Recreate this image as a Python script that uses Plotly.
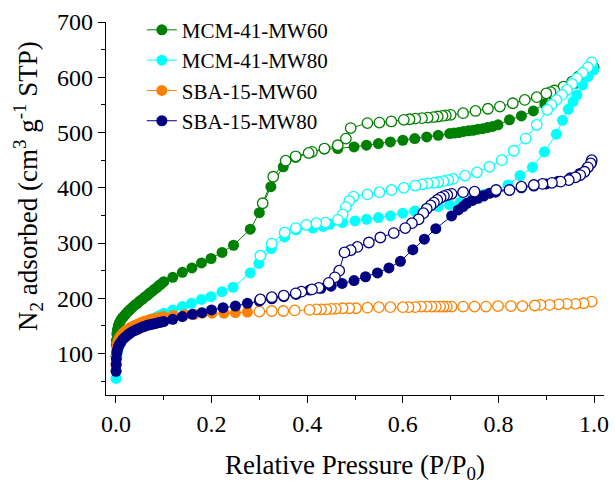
import plotly.graph_objects as go

# ---- N2 physisorption isotherms (relative pressure P/P0, volume cm3/g STP) ----
names = ["MCM-41-MW60", "MCM-41-MW80", "SBA-15-MW60", "SBA-15-MW80"]
colors = ["#008000", "#00FFFF", "#FF8000", "#000080"]

# MCM-41-MW60
mcm60_ads_p = [0.0003, 0.0007, 0.001, 0.002, 0.003, 0.005, 0.007, 0.01, 0.013, 0.016, 0.02, 0.025,
               0.03, 0.035, 0.04, 0.045, 0.05, 0.055, 0.06, 0.065, 0.07, 0.075, 0.08, 0.085, 0.09,
               0.095, 0.1, 0.119, 0.139, 0.159, 0.179, 0.199, 0.222, 0.246, 0.281, 0.300, 0.324,
               0.350, 0.376, 0.405, 0.436, 0.464, 0.498, 0.524, 0.549, 0.574, 0.600, 0.625, 0.650,
               0.674, 0.698, 0.707, 0.717, 0.727, 0.737, 0.747, 0.757, 0.767, 0.777, 0.788, 0.799,
               0.823, 0.848, 0.873, 0.897, 0.916, 0.937, 0.961, 0.981, 0.999]
mcm60_ads_v = [95, 115, 124, 136, 143, 150, 155, 160, 164, 167, 171, 176,
               180, 184, 188, 191, 195, 198, 202, 205, 209, 212, 216, 219, 223,
               226, 230, 238, 247, 255, 264, 272, 283, 296, 325, 355, 402,
               438, 455, 463, 470, 471, 474, 477, 480, 483, 486, 489, 492,
               495, 498, 499, 500, 502, 503, 504, 506, 507, 509, 511, 514,
               523, 530, 539, 552, 565, 577, 589, 601, 616]
mcm60_des_p = [0.999, 0.981, 0.967, 0.954, 0.936, 0.917, 0.909, 0.900, 0.880, 0.855, 0.830, 0.803,
               0.778, 0.752, 0.726, 0.700, 0.690, 0.683, 0.673, 0.664, 0.652, 0.640, 0.626, 0.614,
               0.602, 0.576, 0.551, 0.526, 0.491, 0.481, 0.464, 0.436, 0.410, 0.403, 0.376, 0.355,
               0.329, 0.307]
mcm60_des_v = [618, 610, 601, 592, 583, 576, 573, 571, 564, 559, 553, 547,
               543, 539, 535, 532, 531, 530, 529, 528, 527, 526, 525, 524,
               523, 520, 518, 517, 508, 489, 477, 471, 465, 463, 457, 449,
               420, 372]

# MCM-41-MW80
mcm80_ads_p = [0.0003, 0.0006, 0.001, 0.002, 0.003, 0.005, 0.007, 0.01, 0.015, 0.02, 0.025, 0.03,
               0.035, 0.04, 0.045, 0.05, 0.055, 0.06, 0.065, 0.07, 0.075, 0.08, 0.085, 0.09, 0.095,
               0.1, 0.119, 0.139, 0.158, 0.179, 0.199, 0.222, 0.245, 0.281, 0.299, 0.325, 0.353,
               0.377, 0.412, 0.433, 0.447, 0.474, 0.500, 0.524, 0.549, 0.574, 0.600, 0.625, 0.650,
               0.674, 0.698, 0.720, 0.745, 0.770, 0.795, 0.820, 0.845, 0.871, 0.896, 0.921, 0.934,
               0.946, 0.956, 0.964, 0.976, 0.987, 0.999]
mcm80_ads_v = [55, 68, 80, 95, 103, 111, 116, 121, 127, 132, 136, 140,
               143, 146, 149, 151, 154, 156, 158, 160, 162, 164, 166, 168, 170,
               173, 179, 185, 191, 198, 203, 212, 220, 246, 263, 290, 311,
               324, 327, 330, 334, 337, 340, 343, 346, 349, 354, 358, 363,
               366, 369, 374, 380, 388, 396, 405, 422, 437, 465, 497, 522,
               542, 556, 568, 586, 601, 613]
mcm80_des_p = [0.995, 0.987, 0.976, 0.964, 0.954, 0.943, 0.933, 0.921, 0.911, 0.902, 0.880, 0.857,
               0.832, 0.807, 0.781, 0.755, 0.730, 0.705, 0.695, 0.685, 0.674, 0.665, 0.652, 0.640,
               0.626, 0.602, 0.576, 0.551, 0.526, 0.497, 0.488, 0.481, 0.474, 0.464, 0.438, 0.419,
               0.398, 0.376, 0.353, 0.326, 0.302]
mcm80_des_v = [627, 618, 608, 598, 588, 577, 568, 559, 550, 541, 514, 489,
               467, 450, 438, 428, 422, 416, 414, 412, 410, 409, 408, 406,
               404, 400, 396, 392, 388, 384, 376, 365, 352, 342, 337, 336,
               333, 327, 319, 299, 277]

# SBA-15-MW60
sba60_ads_p = [0.0003, 0.0006, 0.001, 0.002, 0.003, 0.005, 0.007, 0.01, 0.015, 0.02, 0.025, 0.03,
               0.035, 0.04, 0.045, 0.05, 0.055, 0.06, 0.065, 0.07, 0.075, 0.08, 0.085, 0.09, 0.095,
               0.1, 0.12, 0.143, 0.164, 0.181, 0.201, 0.226, 0.25, 0.275]
sba60_ads_v = [82, 95, 103, 113, 118, 124, 128, 132, 137, 141, 144, 147,
               149, 151, 153, 155, 157, 158, 160, 161, 162, 163, 164, 165, 166,
               167, 169, 170, 171, 173, 173, 173, 174, 175]
sba60_des_p = [0.995, 0.978, 0.961, 0.943, 0.926, 0.907, 0.888, 0.876, 0.850, 0.826, 0.799, 0.774,
               0.750, 0.726, 0.702, 0.692, 0.685, 0.678, 0.669, 0.660, 0.650, 0.638, 0.626, 0.612,
               0.600, 0.574, 0.550, 0.526, 0.502, 0.488, 0.474, 0.460, 0.450, 0.440, 0.429, 0.419,
               0.405, 0.374, 0.350, 0.326, 0.300]
sba60_des_v = [194, 191, 190, 190, 189, 188, 188, 187, 186, 186, 186, 185,
               185, 185, 185, 185, 185, 185, 185, 185, 185, 185, 184, 184,
               184, 184, 184, 183, 182, 182, 182, 181, 181, 180, 180, 180,
               179, 178, 177, 177, 176]

# SBA-15-MW80
sba80_ads_p = [0.0003, 0.0006, 0.001, 0.002, 0.003, 0.005, 0.007, 0.01, 0.015, 0.02, 0.025, 0.03,
               0.035, 0.04, 0.045, 0.05, 0.055, 0.06, 0.065, 0.07, 0.075, 0.08, 0.085, 0.09, 0.095,
               0.1, 0.119, 0.139, 0.16, 0.18, 0.2, 0.224, 0.25, 0.275, 0.3, 0.326, 0.351, 0.377,
               0.405, 0.429, 0.45, 0.473, 0.498, 0.522, 0.547, 0.571, 0.595, 0.621, 0.645, 0.669,
               0.702, 0.716, 0.726, 0.734, 0.745, 0.757, 0.769, 0.781, 0.794, 0.823, 0.848, 0.874,
               0.9, 0.925, 0.95, 0.97, 0.985, 0.995]
sba80_ads_v = [68, 80, 90, 101, 106, 112, 116, 120, 126, 130, 134, 137,
               140, 142, 144, 146, 148, 149, 151, 152, 153, 154, 155, 156, 157,
               158, 162, 167, 171, 174, 179, 183, 186, 191, 195, 199, 203, 207,
               215, 218, 222, 227, 232, 239, 246, 255, 267, 288, 307, 326,
               349, 360, 366, 372, 377, 381, 385, 390, 392, 396, 400, 403,
               407, 412, 418, 426, 436, 446]
sba80_des_p = [0.995, 0.993, 0.987, 0.980, 0.971, 0.961, 0.947, 0.930, 0.912, 0.892, 0.874, 0.848,
               0.823, 0.795, 0.750, 0.726, 0.702, 0.693, 0.686, 0.679, 0.672, 0.665, 0.658, 0.650,
               0.643, 0.633, 0.619, 0.605, 0.581, 0.553, 0.529, 0.505, 0.491, 0.478, 0.467, 0.458,
               0.445, 0.424, 0.410, 0.388, 0.376, 0.351, 0.326, 0.302]
sba80_des_v = [450, 444, 437, 429, 423, 419, 414, 411, 409, 407, 405, 402,
               396, 396, 393, 392, 389, 387, 385, 382, 378, 373, 368, 362,
               354, 343, 336, 327, 318, 310, 301, 293, 287, 283, 250, 238,
               228, 219, 216, 212, 209, 205, 202, 198]

series = [
    (mcm60_ads_p, mcm60_ads_v, mcm60_des_p, mcm60_des_v),
    (mcm80_ads_p, mcm80_ads_v, mcm80_des_p, mcm80_des_v),
    (sba60_ads_p, sba60_ads_v, sba60_des_p, sba60_des_v),
    (sba80_ads_p, sba80_ads_v, sba80_des_p, sba80_des_v),
]

FONT = "Liberation Serif, Times New Roman, serif"

fig = go.Figure()
for name, color, (ap, av, dp, dv) in zip(names, colors, series):
    # adsorption branch: filled circles
    fig.add_trace(go.Scatter(
        x=ap, y=av, name=name, mode="lines+markers",
        line=dict(color=color, width=1),
        marker=dict(symbol="circle", size=11, color=color, line=dict(width=0)),
    ))
    # desorption branch: open circles
    fig.add_trace(go.Scatter(
        x=dp, y=dv, name=name + " (des)", mode="lines+markers", showlegend=False,
        line=dict(color=color, width=1),
        marker=dict(symbol="circle", size=10.5, color="white", line=dict(color=color, width=1.3)),
    ))

axis_common = dict(
    showgrid=False, zeroline=False, showline=True, linecolor="black", linewidth=1.3,
    ticks="outside", ticklen=7, tickwidth=1.2, tickcolor="black",
    tickfont=dict(family=FONT, size=24, color="black"),
    mirror=False,
)

fig.update_xaxes(
    range=[-0.0207, 1.0207], tickvals=[0, 0.2, 0.4, 0.6, 0.8, 1.0],
    ticktext=["0.0", "0.2", "0.4", "0.6", "0.8", "1.0"],
    minor=dict(tickvals=[0.1, 0.3, 0.5, 0.7, 0.9], ticks="outside", ticklen=4,
               tickcolor="black", tickwidth=1.2),
    **axis_common,
)
fig.update_yaxes(
    range=[25, 700], tickvals=[100, 200, 300, 400, 500, 600, 700],
    minor=dict(tickvals=[50, 150, 250, 350, 450, 550, 650], ticks="outside", ticklen=4,
               tickcolor="black", tickwidth=1.2),
    **axis_common,
)

fig.update_layout(
    width=615, height=481,
    margin=dict(l=106, r=6, t=22, b=86),
    paper_bgcolor="white", plot_bgcolor="white",
    font=dict(family=FONT, color="black"),
    showlegend=True,
    legend=dict(
        x=0.072, y=1.033, xanchor="left", yanchor="top",
        bgcolor="rgba(0,0,0,0)", borderwidth=0,
        font=dict(family=FONT, size=21, color="black"),
        tracegroupgap=0,
    ),
    annotations=[
        dict(text="Relative Pressure (P/P<sub>0</sub>)", xref="paper", yref="paper",
             x=0.5, y=-0.193, xanchor="center", yanchor="middle", showarrow=False,
             font=dict(family=FONT, size=27, color="black")),
        dict(text="N<sub>2</sub> adsorbed (cm<sup>3</sup> g<sup>-1</sup> STP)",
             xref="paper", yref="paper", x=-0.157, y=0.56, xanchor="center", yanchor="middle",
             textangle=-90, showarrow=False,
             font=dict(family=FONT, size=27, color="black")),
    ],
)

fig.write_html("out.html")
